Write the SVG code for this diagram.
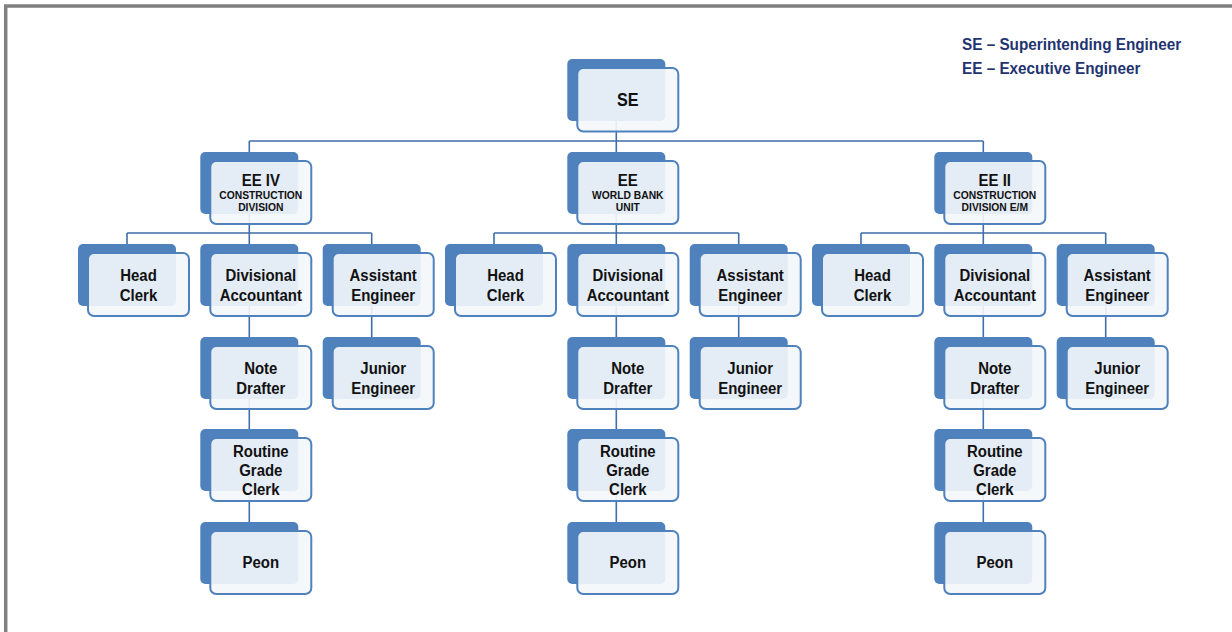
<svg xmlns="http://www.w3.org/2000/svg" width="1232" height="632" viewBox="0 0 1232 632">
<style>
  .back { fill: #4f81bd; }
  .front { fill: #f4f7fb; fill-opacity: 0.9; stroke: #4f81bd; stroke-width: 2; }
  text { font-family: "Liberation Sans", Arial, sans-serif; font-weight: bold; fill: #111; text-anchor: middle; }
  .lbl { font-size: 17px; }
  .ttl { font-size: 17px; }
  .top { font-size: 18px; }
  .sub { font-size: 10.3px; }
  .key { font-size: 17px; fill: #1f3470; text-anchor: start; }
  .wire { fill: none; stroke: #3f6ea9; stroke-width: 1.6; }
</style>
<rect width="1232" height="632" fill="#ffffff"/>
<rect x="5.7" y="6" width="1240" height="640" fill="none" stroke="#808080" stroke-width="3.5"/>

<g id="legend">
  <text class="key" transform="translate(962 0) scale(.9 1)" y="50">SE – Superintending Engineer</text>
  <text class="key" transform="translate(962 0) scale(.9 1)" y="74">EE – Executive Engineer</text>
</g>

<g id="connectors">
  <path class="wire" d="M616.3 121V141M249.3 141H983.3M249.3 141V152M616.3 141V152M983.3 141V152"/>
  <!-- left group -->
  <path class="wire" d="M249.3 214V233M127 233H371.7M127 233V244M249.3 233V244M371.7 233V244"/>
  <path class="wire" d="M249.3 306V337M249.3 399V429M249.3 491V522M371.7 306V337"/>
  <!-- middle group -->
  <path class="wire" d="M616.3 214V233M494 233H738.7M494 233V244M616.3 233V244M738.7 233V244"/>
  <path class="wire" d="M616.3 306V337M616.3 399V429M616.3 491V522M738.7 306V337"/>
  <!-- right group -->
  <path class="wire" d="M983.3 214V233M861 233H1105.7M861 233V244M983.3 233V244M1105.7 233V244"/>
  <path class="wire" d="M983.3 306V337M983.3 399V429M983.3 491V522M1105.7 306V337"/>
</g>

<g id="se">
  <rect class="back" x="567.3" y="59" width="98" height="62" rx="5"/>
  <rect class="front" x="577.3" y="68" width="101" height="63.5" rx="6"/>
  <text class="top" transform="translate(627.8 0) scale(.9 1)" y="106">SE</text>
</g>

<!-- Executive engineers -->
<g id="ee-iv">
  <rect class="back" x="200.3" y="152" width="98" height="62" rx="5"/>
  <rect class="front" x="210.3" y="161" width="101" height="63" rx="6"/>
  <text class="ttl" transform="translate(260.8 0) scale(.88 1)" y="186.5">EE IV</text>
  <text class="sub" x="260.8" y="199">CONSTRUCTION</text>
  <text class="sub" x="260.8" y="211.3">DIVISION</text>
</g>
<g id="ee-wb">
  <rect class="back" x="567.3" y="152" width="98" height="62" rx="5"/>
  <rect class="front" x="577.3" y="161" width="101" height="63" rx="6"/>
  <text class="ttl" transform="translate(627.8 0) scale(.88 1)" y="186.5">EE</text>
  <text class="sub" x="627.8" y="199">WORLD BANK</text>
  <text class="sub" x="627.8" y="211.3">UNIT</text>
</g>
<g id="ee-ii">
  <rect class="back" x="934.3" y="152" width="98" height="62" rx="5"/>
  <rect class="front" x="944.3" y="161" width="101" height="63" rx="6"/>
  <text class="ttl" transform="translate(994.8 0) scale(.88 1)" y="186.5">EE II</text>
  <text class="sub" x="994.8" y="199">CONSTRUCTION</text>
  <text class="sub" x="994.8" y="211.3">DIVISION E/M</text>
</g>

<!-- left division -->
<g id="l-head-clerk">
  <rect class="back" x="78" y="244" width="98" height="62" rx="5"/>
  <rect class="front" x="88" y="253" width="101" height="63" rx="6"/>
  <text class="lbl" transform="translate(138.5 0) scale(.88 1)" y="281.5">Head</text>
  <text class="lbl" transform="translate(138.5 0) scale(.88 1)" y="301">Clerk</text>
</g>
<g id="l-div-acct">
  <rect class="back" x="200.3" y="244" width="98" height="62" rx="5"/>
  <rect class="front" x="210.3" y="253" width="101" height="63" rx="6"/>
  <text class="lbl" transform="translate(260.8 0) scale(.88 1)" y="281.5">Divisional</text>
  <text class="lbl" transform="translate(260.8 0) scale(.88 1)" y="301">Accountant</text>
</g>
<g id="l-asst-eng">
  <rect class="back" x="322.7" y="244" width="98" height="62" rx="5"/>
  <rect class="front" x="332.7" y="253" width="101" height="63" rx="6"/>
  <text class="lbl" transform="translate(383.2 0) scale(.88 1)" y="281.5">Assistant</text>
  <text class="lbl" transform="translate(383.2 0) scale(.88 1)" y="301">Engineer</text>
</g>
<g id="l-note-drafter">
  <rect class="back" x="200.3" y="337" width="98" height="62" rx="5"/>
  <rect class="front" x="210.3" y="346" width="101" height="63" rx="6"/>
  <text class="lbl" transform="translate(260.8 0) scale(.88 1)" y="374.5">Note</text>
  <text class="lbl" transform="translate(260.8 0) scale(.88 1)" y="394">Drafter</text>
</g>
<g id="l-junior-eng">
  <rect class="back" x="322.7" y="337" width="98" height="62" rx="5"/>
  <rect class="front" x="332.7" y="346" width="101" height="63" rx="6"/>
  <text class="lbl" transform="translate(383.2 0) scale(.88 1)" y="374.5">Junior</text>
  <text class="lbl" transform="translate(383.2 0) scale(.88 1)" y="394">Engineer</text>
</g>
<g id="l-routine-clerk">
  <rect class="back" x="200.3" y="429" width="98" height="62" rx="5"/>
  <rect class="front" x="210.3" y="438" width="101" height="63" rx="6"/>
  <text class="lbl" transform="translate(260.8 0) scale(.88 1)" y="457">Routine</text>
  <text class="lbl" transform="translate(260.8 0) scale(.88 1)" y="476">Grade</text>
  <text class="lbl" transform="translate(260.8 0) scale(.88 1)" y="495">Clerk</text>
</g>
<g id="l-peon">
  <rect class="back" x="200.3" y="522" width="98" height="62" rx="5"/>
  <rect class="front" x="210.3" y="531" width="101" height="63" rx="6"/>
  <text class="lbl" transform="translate(260.8 0) scale(.88 1)" y="568.5">Peon</text>
</g>

<!-- middle division -->
<g id="m-head-clerk">
  <rect class="back" x="445" y="244" width="98" height="62" rx="5"/>
  <rect class="front" x="455" y="253" width="101" height="63" rx="6"/>
  <text class="lbl" transform="translate(505.5 0) scale(.88 1)" y="281.5">Head</text>
  <text class="lbl" transform="translate(505.5 0) scale(.88 1)" y="301">Clerk</text>
</g>
<g id="m-div-acct">
  <rect class="back" x="567.3" y="244" width="98" height="62" rx="5"/>
  <rect class="front" x="577.3" y="253" width="101" height="63" rx="6"/>
  <text class="lbl" transform="translate(627.8 0) scale(.88 1)" y="281.5">Divisional</text>
  <text class="lbl" transform="translate(627.8 0) scale(.88 1)" y="301">Accountant</text>
</g>
<g id="m-asst-eng">
  <rect class="back" x="689.7" y="244" width="98" height="62" rx="5"/>
  <rect class="front" x="699.7" y="253" width="101" height="63" rx="6"/>
  <text class="lbl" transform="translate(750.2 0) scale(.88 1)" y="281.5">Assistant</text>
  <text class="lbl" transform="translate(750.2 0) scale(.88 1)" y="301">Engineer</text>
</g>
<g id="m-note-drafter">
  <rect class="back" x="567.3" y="337" width="98" height="62" rx="5"/>
  <rect class="front" x="577.3" y="346" width="101" height="63" rx="6"/>
  <text class="lbl" transform="translate(627.8 0) scale(.88 1)" y="374.5">Note</text>
  <text class="lbl" transform="translate(627.8 0) scale(.88 1)" y="394">Drafter</text>
</g>
<g id="m-junior-eng">
  <rect class="back" x="689.7" y="337" width="98" height="62" rx="5"/>
  <rect class="front" x="699.7" y="346" width="101" height="63" rx="6"/>
  <text class="lbl" transform="translate(750.2 0) scale(.88 1)" y="374.5">Junior</text>
  <text class="lbl" transform="translate(750.2 0) scale(.88 1)" y="394">Engineer</text>
</g>
<g id="m-routine-clerk">
  <rect class="back" x="567.3" y="429" width="98" height="62" rx="5"/>
  <rect class="front" x="577.3" y="438" width="101" height="63" rx="6"/>
  <text class="lbl" transform="translate(627.8 0) scale(.88 1)" y="457">Routine</text>
  <text class="lbl" transform="translate(627.8 0) scale(.88 1)" y="476">Grade</text>
  <text class="lbl" transform="translate(627.8 0) scale(.88 1)" y="495">Clerk</text>
</g>
<g id="m-peon">
  <rect class="back" x="567.3" y="522" width="98" height="62" rx="5"/>
  <rect class="front" x="577.3" y="531" width="101" height="63" rx="6"/>
  <text class="lbl" transform="translate(627.8 0) scale(.88 1)" y="568.5">Peon</text>
</g>

<!-- right division -->
<g id="r-head-clerk">
  <rect class="back" x="812" y="244" width="98" height="62" rx="5"/>
  <rect class="front" x="822" y="253" width="101" height="63" rx="6"/>
  <text class="lbl" transform="translate(872.5 0) scale(.88 1)" y="281.5">Head</text>
  <text class="lbl" transform="translate(872.5 0) scale(.88 1)" y="301">Clerk</text>
</g>
<g id="r-div-acct">
  <rect class="back" x="934.3" y="244" width="98" height="62" rx="5"/>
  <rect class="front" x="944.3" y="253" width="101" height="63" rx="6"/>
  <text class="lbl" transform="translate(994.8 0) scale(.88 1)" y="281.5">Divisional</text>
  <text class="lbl" transform="translate(994.8 0) scale(.88 1)" y="301">Accountant</text>
</g>
<g id="r-asst-eng">
  <rect class="back" x="1056.7" y="244" width="98" height="62" rx="5"/>
  <rect class="front" x="1066.7" y="253" width="101" height="63" rx="6"/>
  <text class="lbl" transform="translate(1117.2 0) scale(.88 1)" y="281.5">Assistant</text>
  <text class="lbl" transform="translate(1117.2 0) scale(.88 1)" y="301">Engineer</text>
</g>
<g id="r-note-drafter">
  <rect class="back" x="934.3" y="337" width="98" height="62" rx="5"/>
  <rect class="front" x="944.3" y="346" width="101" height="63" rx="6"/>
  <text class="lbl" transform="translate(994.8 0) scale(.88 1)" y="374.5">Note</text>
  <text class="lbl" transform="translate(994.8 0) scale(.88 1)" y="394">Drafter</text>
</g>
<g id="r-junior-eng">
  <rect class="back" x="1056.7" y="337" width="98" height="62" rx="5"/>
  <rect class="front" x="1066.7" y="346" width="101" height="63" rx="6"/>
  <text class="lbl" transform="translate(1117.2 0) scale(.88 1)" y="374.5">Junior</text>
  <text class="lbl" transform="translate(1117.2 0) scale(.88 1)" y="394">Engineer</text>
</g>
<g id="r-routine-clerk">
  <rect class="back" x="934.3" y="429" width="98" height="62" rx="5"/>
  <rect class="front" x="944.3" y="438" width="101" height="63" rx="6"/>
  <text class="lbl" transform="translate(994.8 0) scale(.88 1)" y="457">Routine</text>
  <text class="lbl" transform="translate(994.8 0) scale(.88 1)" y="476">Grade</text>
  <text class="lbl" transform="translate(994.8 0) scale(.88 1)" y="495">Clerk</text>
</g>
<g id="r-peon">
  <rect class="back" x="934.3" y="522" width="98" height="62" rx="5"/>
  <rect class="front" x="944.3" y="531" width="101" height="63" rx="6"/>
  <text class="lbl" transform="translate(994.8 0) scale(.88 1)" y="568.5">Peon</text>
</g>
</svg>
